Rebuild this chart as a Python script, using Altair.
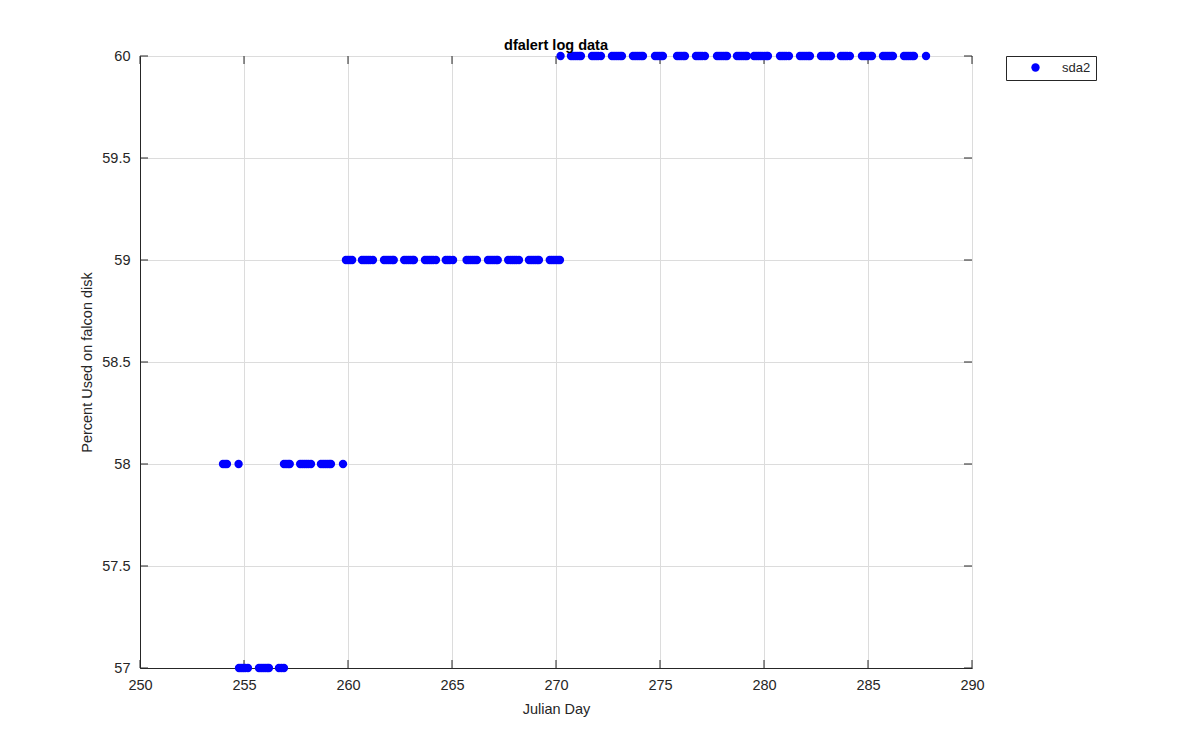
import altair as alt
import pandas as pd

day60 = [270.22,
         270.72, 270.82, 270.92, 271.02, 271.12, 271.20,
         271.73, 271.83, 271.93, 272.03, 272.16,
         272.69, 272.79, 272.89, 272.99, 273.09, 273.17,
         273.70, 273.80, 273.90, 274.00, 274.10, 274.18,
         274.76, 274.86, 274.96, 275.06, 275.14,
         275.82, 275.92, 276.02, 276.12, 276.20,
         276.73, 276.83, 276.93, 277.03, 277.16,
         277.74, 277.84, 277.94, 278.04, 278.14, 278.22,
         278.70, 278.80, 278.90, 279.00, 279.10, 279.18,
         279.52, 279.62, 279.72, 279.82, 279.92, 280.02, 280.12, 280.19,
         280.77, 280.87, 280.97, 281.07, 281.20,
         281.73, 281.83, 281.93, 282.03, 282.13, 282.21,
         282.74, 282.84, 282.94, 283.04, 283.14, 283.22,
         283.70, 283.80, 283.90, 284.00, 284.13,
         284.71, 284.81, 284.91, 285.01, 285.11, 285.19,
         285.72, 285.82, 285.92, 286.02, 286.12, 286.20,
         286.73, 286.83, 286.93, 287.03, 287.13, 287.21,
         287.79]
day59 = [259.90, 260.00, 260.10, 260.20,
         260.67, 260.77, 260.87, 260.97, 261.07, 261.20,
         261.73, 261.83, 261.93, 262.03, 262.13, 262.20,
         262.70, 262.80, 262.90, 263.00, 263.10, 263.17,
         263.70, 263.80, 263.90, 264.00, 264.10, 264.23,
         264.70, 264.80, 264.90, 265.05,
         265.70, 265.80, 265.90, 266.00, 266.10, 266.20,
         266.73, 266.83, 266.93, 267.03, 267.13, 267.20,
         267.70, 267.80, 267.90, 268.00, 268.10, 268.22,
         268.70, 268.80, 268.90, 269.00, 269.10, 269.18,
         269.70, 269.80, 269.90, 270.00, 270.10, 270.19]
day58 = [253.99, 254.09, 254.18, 254.74,
         256.92, 257.02, 257.12, 257.20,
         257.70, 257.80, 257.90, 258.00, 258.10, 258.22,
         258.70, 258.80, 258.90, 259.00, 259.10, 259.18,
         259.76]
day57 = [254.76, 254.86, 254.96, 255.06, 255.19,
         255.72, 255.82, 255.92, 256.02, 256.12, 256.20,
         256.68, 256.80, 256.92]

x_ticks = [250, 255, 260, 265, 270, 275, 280, 285, 290]
y_ticks = [57, 57.5, 58, 58.5, 59, 59.5, 60]
series_name = "sda2"

rows = []
for level, days in [(60, day60), (59, day59), (58, day58), (57, day57)]:
    for d in days:
        rows.append({"day": d, "pct": level, "series": series_name})
df = pd.DataFrame(rows)
xt = pd.DataFrame({"v": x_ticks})
yt = pd.DataFrame({"v": y_ticks})

W, H = 832, 612
FONT = "Liberation Sans"
FS = 14.5

xscale = alt.Scale(domain=[250, 290], nice=False, zero=False)
yscale = alt.Scale(domain=[57, 60], nice=False, zero=False)

points = alt.Chart(df).mark_circle(size=70, opacity=1).encode(
    x=alt.X("day:Q", scale=xscale, title="Julian Day",
            axis=alt.Axis(values=x_ticks, grid=True, tickSize=0, labelPadding=10,
                          labelFlush=False, titlePadding=11)),
    y=alt.Y("pct:Q", scale=yscale, title="Percent Used on falcon disk",
            axis=alt.Axis(values=y_ticks, grid=True, tickSize=0, labelPadding=10,
                          labelFlush=False, format="~g", titlePadding=7)),
    color=alt.Color("series:N", title=None,
                    scale=alt.Scale(domain=[series_name], range=["#0000ff"]),
                    legend=alt.Legend(orient="none", legendX=866, legendY=0,
                                      strokeColor="#262626", fillColor="white",
                                      padding=5, symbolOffset=18, labelOffset=20,
                                      symbolSize=70, symbolType="circle",
                                      labelFontSize=13, labelFont=FONT,
                                      labelColor="#262626")),
)

tick_len = 8
xb = alt.Chart(xt).mark_rule(color="#262626").encode(
    x=alt.X("v:Q", scale=xscale), y=alt.value(H), y2=alt.value(H - tick_len))
xtop = alt.Chart(xt).mark_rule(color="#262626").encode(
    x=alt.X("v:Q", scale=xscale), y=alt.value(0), y2=alt.value(tick_len))
yl = alt.Chart(yt).mark_rule(color="#262626").encode(
    y=alt.Y("v:Q", scale=yscale), x=alt.value(0), x2=alt.value(tick_len))
yr = alt.Chart(yt).mark_rule(color="#262626").encode(
    y=alt.Y("v:Q", scale=yscale), x=alt.value(W), x2=alt.value(W - tick_len))

chart = alt.layer(xb, xtop, yl, yr, points).properties(
    width=W, height=H,
    title=alt.Title("dfalert log data", font=FONT, fontSize=FS, fontWeight="bold",
                    color="black", anchor="middle", offset=-5),
    autosize=alt.AutoSizeParams(type="none"),
    padding={"left": 132, "top": 48, "right": 220, "bottom": 70},
).configure_view(
    stroke="#262626", strokeWidth=1
).configure_axis(
    labelFont=FONT, titleFont=FONT, labelFontSize=FS, titleFontSize=FS,
    labelColor="#262626", titleColor="#262626", titleFontWeight="normal",
    domainColor="#262626", gridColor="#dcdcdc", gridWidth=1
)

chart.save("out.html", embed_options={"renderer": "svg", "actions": False})
